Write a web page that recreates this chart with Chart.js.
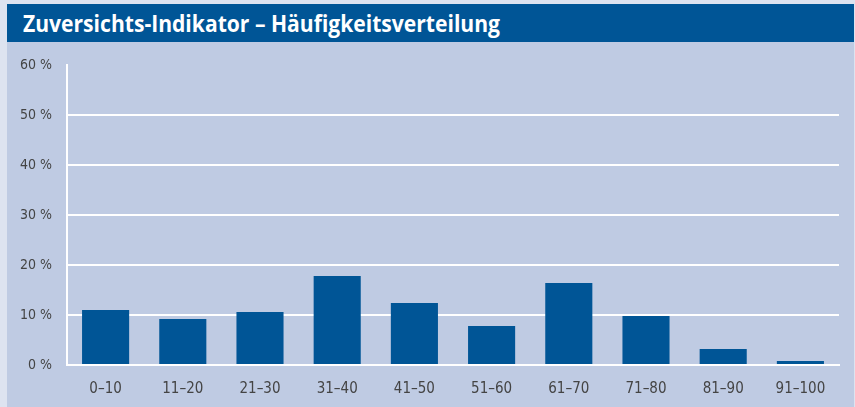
<!DOCTYPE html>
<html>
<head>
<meta charset="utf-8">
<script src="https://cdn.jsdelivr.net/npm/chart.js@4"></script>
<style>
  html, body { margin: 0; padding: 0; }
  body { width: 855px; height: 407px; background: #dde3f0; position: relative; overflow: hidden; }
  .title {
    position: absolute; left: 7px; top: 4px; width: 847px; height: 38px;
    background: #005596; color: #fff;
    font-family: "Open Sans", "Noto Sans", sans-serif;
    font-weight: bold; font-size: 23px; line-height: 38px; white-space: nowrap;
  }
  .title span { display: inline-block; margin-left: 16px; transform-origin: left center; }
  .panel { position: absolute; left: 7px; top: 42px; width: 847px; height: 365px; background: #bfcbe3; }
</style>
</head>
<body>
<div class="title"><span id="ttl">Zuversichts-Indikator – Häufigkeitsverteilung</span></div>
<div class="panel"><canvas id="myChart" width="847" height="365"></canvas></div>
<script>
// data
const categories = ["0–10", "11–20", "21–30", "31–40", "41–50", "51–60", "61–70", "71–80", "81–90", "91–100"];
const shares = [11.0, 9.2, 10.6, 17.8, 12.4, 7.8, 16.4, 9.8, 3.2, 0.8];
const yTicks = [0, 10, 20, 30, 40, 50, 60];

// squeeze the title to the width of the original
const ttl = document.getElementById("ttl");
const w = ttl.getBoundingClientRect().width;
ttl.style.transform = "scaleX(" + (477 / w) + ")";

const fontFam = '"Liberation Sans Narrow", "DejaVu Sans Condensed", sans-serif';

const ctx = document.getElementById("myChart").getContext("2d");
new Chart(ctx, {
    type: "bar",
    data: {
        labels: categories,
        datasets: [{
            data: shares,
            backgroundColor: "#005596",
            categoryPercentage: 0.61,
            barPercentage: 1
        }]
    },
    options: {
        responsive: false,
        animation: false,
        layout: { padding: { left: 0, right: 15, top: 23, bottom: 0 } },
        plugins: { legend: { display: false }, tooltip: { enabled: false } },
        scales: {
            x: {
                grid: { display: false },
                border: { color: "#ffffff", width: 2, z: 1 },
                ticks: { color: "#444444", padding: 7, font: { family: fontFam, size: 15 } },
                afterFit: function(scale) { scale.height = 42; }
            },
            y: {
                min: 0,
                max: 60,
                afterBuildTicks: function(scale) { scale.ticks = yTicks.map(v => ({ value: v })); },
                grid: {
                    drawTicks: false,
                    lineWidth: 2,
                    color: c => (c.tick && c.tick.value === 60) ? "rgba(0,0,0,0)" : "#ffffff"
                },
                border: { color: "#ffffff", width: 2 },
                ticks: {
                    color: "#444444",
                    padding: 15,
                    font: { family: fontFam, size: 14 },
                    callback: v => v + " %"
                },
                afterFit: function(scale) { scale.width = 60; }
            }
        }
    }
});
</script>
</body>
</html>
